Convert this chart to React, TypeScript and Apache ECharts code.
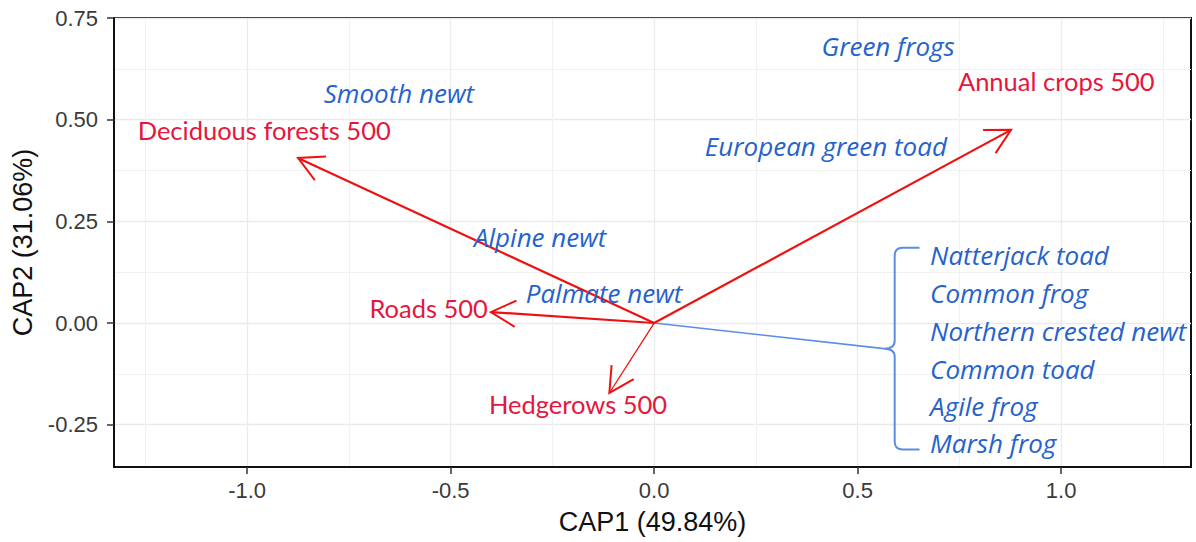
import React, { useEffect, useRef } from "react";
import * as echarts from "echarts";

// ---- axis settings ----
const xTicks = [-1.0, -0.5, 0.0, 0.5, 1.0];
const xMinorTicks = [-1.25, -0.75, -0.25, 0.25, 0.75, 1.25];
const yTicks = [-0.25, 0.0, 0.25, 0.5, 0.75];
const yMinorTicks = [-0.125, 0.125, 0.375, 0.625];
const xRange = [-1.327, 1.319];
const yRange = [-0.354, 0.75];
const xTitle = "CAP1 (49.84%)";
const yTitle = "CAP2 (31.06%)";

// ---- environmental vectors (arrows) ----
const envNames = ["Deciduous forests 500", "Annual crops 500", "Roads 500", "Hedgerows 500"];
const envArrowX = [-0.875, 0.877, -0.401, -0.11];
const envArrowY = [0.406, 0.475, 0.027, -0.172];
const envLabelX = [-0.958, 0.988, -0.554, -0.187];
const envLabelY = [0.475, 0.596, 0.036, -0.2];

// ---- species labels ----
const speciesNames = ["Smooth newt", "Green frogs", "European green toad", "Alpine newt", "Palmate newt"];
const speciesX = [-0.627, 0.575, 0.422, -0.28, -0.123];
const speciesY = [0.566, 0.68, 0.435, 0.211, 0.074];

// ---- grouped species (bracket) ----
const groupNames = ["Natterjack toad", "Common frog", "Northern crested newt", "Common toad", "Agile frog", "Marsh frog"];
const groupX = [0.678, 0.678, 0.678, 0.678, 0.678, 0.678];
const groupY = [0.167, 0.073, -0.02, -0.114, -0.205, -0.296];
// bracket: [spineX, armEndX, topY, bottomY, nubX, nubY]
const bracket = [0.591, 0.652, 0.185, -0.311, 0.565, -0.063];

// ---- styles ----
const RED_ARROW = "#ee1111";
const RED_TEXT = "#e5173c";
const BLUE_TEXT = "#2662cc";
const BLUE_LINE = "#5a8ee4";
const shaftWidths = [2.2, 2.2, 2.2, 1.3];
const RED_FONT = "Lato";
const RED_SIZE = 25.5;
const BLUE_FONT = "Open Sans";
const BLUE_SIZE = 26;
const AXIS_FONT = "Liberation Sans, Arial, sans-serif";

export default function App() {
  const ref = useRef<HTMLDivElement>(null);

  useEffect(() => {
    document.body.style.margin = "0";
    const chart = echarts.init(ref.current!, null, { renderer: "svg" });

    const arrowData = envArrowX.map((x, i) => [x, envArrowY[i]]);
    const envLabelData = envLabelX.map((x, i) => [x, envLabelY[i]]);
    const speciesData = speciesX.map((x, i) => [x, speciesY[i]]);
    const groupData = groupX.map((x, i) => [x, groupY[i]]);

    const axisLabelStyle = { color: "#3a3a3a", fontSize: 22, fontFamily: AXIS_FONT };

    const textItem = (names: string[], color: string, font: string, size: number, italic: boolean, align: string) =>
      (params: any, api: any) => {
        const p = api.coord([api.value(0), api.value(1)]);
        return {
          type: "text",
          x: p[0],
          y: p[1],
          style: {
            text: names[params.dataIndex],
            fill: color,
            fontSize: size,
            fontStyle: italic ? "italic" : "normal",
            fontFamily: font,
            align,
            verticalAlign: "middle",
          },
        };
      };

    const option: any = {
      animation: false,
      backgroundColor: "#ffffff",
      grid: { left: 114, right: 5, top: 18, bottom: 75, show: true, borderColor: "#111", borderWidth: 2, backgroundColor: "transparent" },
      xAxis: [
        {
          type: "value",
          min: xRange[0],
          max: xRange[1],
          position: "bottom",
          name: xTitle,
          nameLocation: "middle",
          nameGap: 41,
          nameTextStyle: { color: "#111", fontSize: 27, fontFamily: AXIS_FONT },
          axisLine: { show: true, onZero: false, lineStyle: { color: "#111", width: 2 } },
          axisTick: { show: true, length: 7, customValues: xTicks, lineStyle: { color: "#333", width: 1.5 } },
          axisLabel: { show: true, customValues: xTicks, margin: 12, formatter: (v: number) => v.toFixed(1), ...axisLabelStyle },
          splitLine: { show: true, lineStyle: { color: "#ebebeb", width: 1.3 } },
        },
        {
          type: "value",
          min: xRange[0],
          max: xRange[1],
          position: "top",
          axisLine: { show: false, onZero: false },
          axisTick: { show: false, customValues: xMinorTicks },
          axisLabel: { show: false, customValues: xMinorTicks },
          splitLine: { show: true, lineStyle: { color: "#f1f1f1", width: 1 } },
        },
      ],
      yAxis: [
        {
          type: "value",
          min: yRange[0],
          max: yRange[1],
          position: "left",
          name: yTitle,
          nameLocation: "middle",
          nameGap: 74,
          nameRotate: 90,
          nameTextStyle: { color: "#111", fontSize: 27, fontFamily: AXIS_FONT },
          axisLine: { show: true, onZero: false, lineStyle: { color: "#111", width: 2 } },
          axisTick: { show: true, length: 7, customValues: yTicks, lineStyle: { color: "#333", width: 1.5 } },
          axisLabel: { show: true, customValues: yTicks, margin: 16, formatter: (v: number) => v.toFixed(2), ...axisLabelStyle },
          splitLine: { show: true, lineStyle: { color: "#ebebeb", width: 1.3 } },
        },
        {
          type: "value",
          min: yRange[0],
          max: yRange[1],
          position: "right",
          axisLine: { show: false, onZero: false },
          axisTick: { show: false, customValues: yMinorTicks },
          axisLabel: { show: false, customValues: yMinorTicks },
          splitLine: { show: true, lineStyle: { color: "#f1f1f1", width: 1 } },
        },
      ],
      series: [
        // blue connector + bracket
        {
          type: "custom",
          xAxisIndex: 0,
          yAxisIndex: 0,
          clip: false,
          data: [bracket],
          renderItem: (params: any, api: any) => {
            const spineX = api.value(0);
            const armX = api.value(1);
            const topY = api.value(2);
            const botY = api.value(3);
            const nubX = api.value(4);
            const nubY = api.value(5);
            const o = api.coord([0, 0]);
            const top = api.coord([spineX, topY]);
            const bot = api.coord([spineX, botY]);
            const arm = api.coord([armX, topY]);
            const nub = api.coord([nubX, nubY]);
            const sx = top[0];
            const r = 8;
            const d =
              `M${arm[0]},${top[1]} L${sx + r},${top[1]} Q${sx},${top[1]} ${sx},${top[1] + r} ` +
              `L${sx},${nub[1] - 8} Q${sx},${nub[1]} ${nub[0]},${nub[1]} ` +
              `Q${sx},${nub[1]} ${sx},${nub[1] + 8} L${sx},${bot[1] - r} Q${sx},${bot[1]} ${sx + r},${bot[1]} L${arm[0]},${bot[1]}`;
            return {
              type: "group",
              children: [
                { type: "line", shape: { x1: o[0], y1: o[1], x2: nub[0], y2: nub[1] }, style: { stroke: BLUE_LINE, lineWidth: 1.6 } },
                { type: "path", shape: { pathData: d }, style: { stroke: BLUE_LINE, lineWidth: 2, fill: "none" } },
              ],
            };
          },
          z: 3,
        },
        // arrows
        {
          type: "custom",
          xAxisIndex: 0,
          yAxisIndex: 0,
          clip: false,
          data: arrowData,
          renderItem: (params: any, api: any) => {
            const o = api.coord([0, 0]);
            const t = api.coord([api.value(0), api.value(1)]);
            const ang = Math.atan2(o[1] - t[1], o[0] - t[0]);
            const L = 28;
            const a = (28 * Math.PI) / 180;
            const w1 = [t[0] + L * Math.cos(ang + a), t[1] + L * Math.sin(ang + a)];
            const w2 = [t[0] + L * Math.cos(ang - a), t[1] + L * Math.sin(ang - a)];
            return {
              type: "group",
              children: [
                { type: "line", shape: { x1: o[0], y1: o[1], x2: t[0], y2: t[1] }, style: { stroke: RED_ARROW, lineWidth: shaftWidths[params.dataIndex] } },
                { type: "polyline", shape: { points: [w1, t, w2] }, style: { stroke: RED_ARROW, lineWidth: 2, fill: "none" } },
              ],
            };
          },
          z: 4,
        },
        // red env labels
        {
          type: "custom",
          xAxisIndex: 0,
          yAxisIndex: 0,
          clip: false,
          data: envLabelData,
          renderItem: textItem(envNames, RED_TEXT, RED_FONT, RED_SIZE, false, "center"),
          z: 5,
        },
        // blue species labels
        {
          type: "custom",
          xAxisIndex: 0,
          yAxisIndex: 0,
          clip: false,
          data: speciesData,
          renderItem: textItem(speciesNames, BLUE_TEXT, BLUE_FONT, BLUE_SIZE, true, "center"),
          z: 5,
        },
        // grouped species labels
        {
          type: "custom",
          xAxisIndex: 0,
          yAxisIndex: 0,
          clip: false,
          data: groupData,
          renderItem: textItem(groupNames, BLUE_TEXT, BLUE_FONT, BLUE_SIZE, true, "left"),
          z: 5,
        },
      ],
    };

    chart.setOption(option);
    return () => chart.dispose();
  }, []);

  return <div ref={ref} style={{ width: 1196, height: 542 }} />;
}
